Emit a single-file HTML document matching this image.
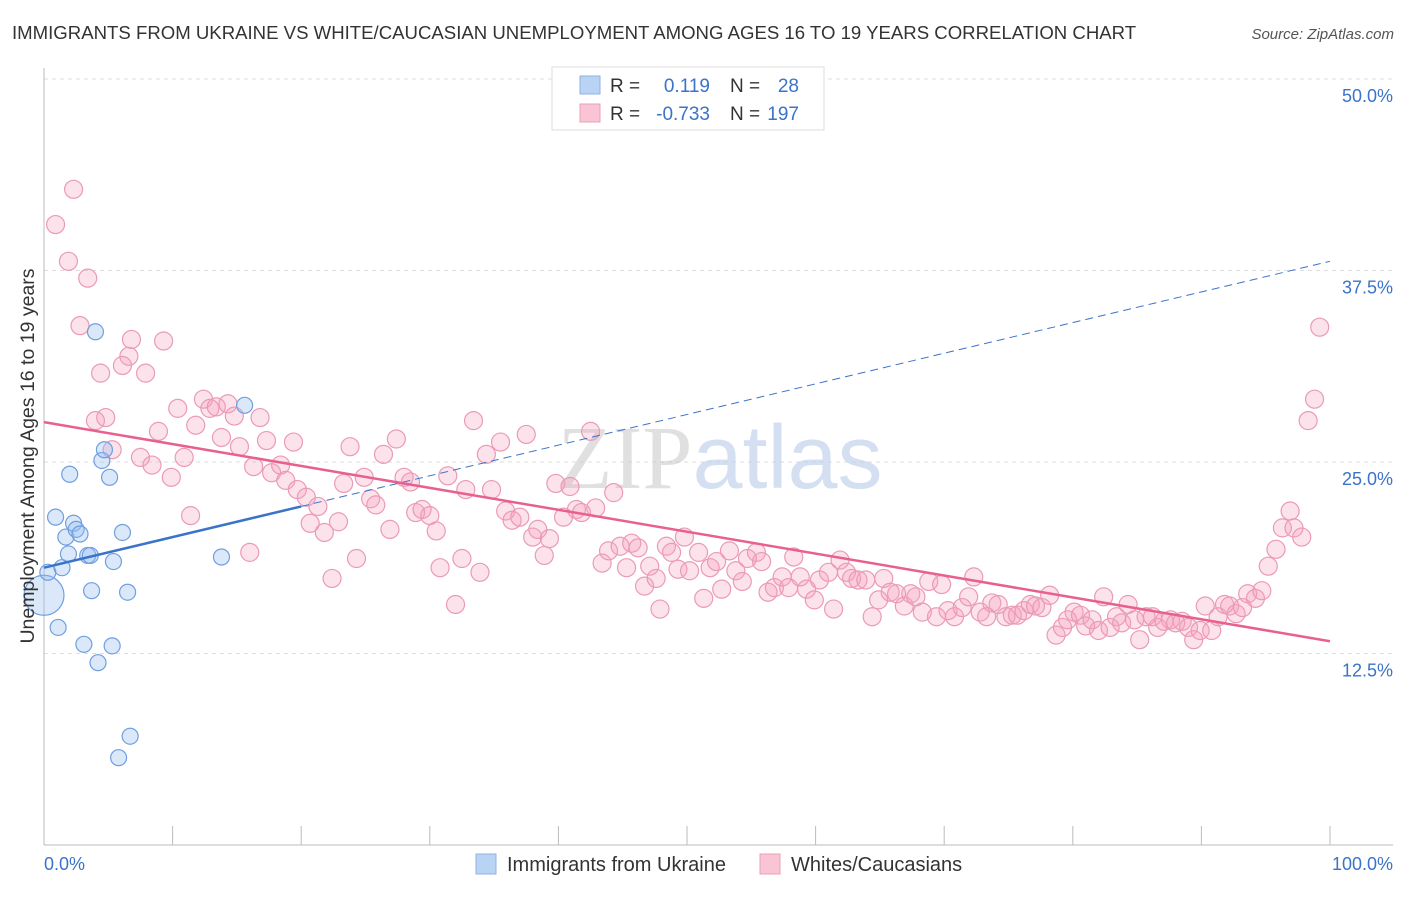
<!DOCTYPE html>
<html><head><meta charset="utf-8"><style>
body{margin:0;background:#fff;font-family:"Liberation Sans",sans-serif;}
svg text{font-family:"Liberation Sans",sans-serif;}
</style></head><body>
<svg id="chart" width="1406" height="892" viewBox="0 0 1406 892" xmlns="http://www.w3.org/2000/svg">
<text x="12" y="39" font-size="18.6" fill="#333">IMMIGRANTS FROM UKRAINE VS WHITE/CAUCASIAN UNEMPLOYMENT AMONG AGES 16 TO 19 YEARS CORRELATION CHART</text>
<text x="1394" y="39" font-size="15" fill="#555" font-style="italic" text-anchor="end">Source: ZipAtlas.com</text>
<g id="grid"></g>
<g id="axes"></g>
<text x="720" y="488" font-size="90" text-anchor="middle" fill="#ddd" opacity="0.6"><tspan font-family="Liberation Serif" fill="#ccc">ZIP</tspan><tspan fill="#b8cde8">atlas</tspan></text>
<g id="pink"></g>
<g id="blue"></g>
<g id="trends"></g>
<text transform="translate(34,456) rotate(-90)" font-size="19.5" fill="#333" text-anchor="middle">Unemployment Among Ages 16 to 19 years</text>
<g>
<rect x="552" y="67" width="272" height="63" fill="#fff" stroke="#ddd"/>
<rect x="580" y="76" width="20" height="18" fill="#b9d3f5" stroke="#8fb2e0"/>
<rect x="580" y="104" width="20" height="18" fill="#f9c4d4" stroke="#eba0b8"/>
<text x="610" y="92" font-size="19" fill="#333">R = </text><text x="710" y="92" font-size="19" fill="#3b73c9" text-anchor="end">0.119</text>
<text x="730" y="92" font-size="19" fill="#333">N = </text><text x="799" y="92" font-size="19" fill="#3b73c9" text-anchor="end">28</text>
<text x="610" y="120" font-size="19" fill="#333">R = </text><text x="710" y="120" font-size="19" fill="#3b73c9" text-anchor="end">-0.733</text>
<text x="730" y="120" font-size="19" fill="#333">N = </text><text x="799" y="120" font-size="19" fill="#3b73c9" text-anchor="end">197</text>
</g>
<g>
<rect x="476" y="854" width="20" height="20" fill="#b9d3f5" stroke="#8fb2e0"/>
<text x="507" y="871" font-size="20" fill="#333">Immigrants from Ukraine</text>
<rect x="760" y="854" width="20" height="20" fill="#f9c4d4" stroke="#eba0b8"/>
<text x="791" y="871" font-size="20" fill="#333">Whites/Caucasians</text>
</g>
</svg>
<script>
const yTicks=[12.5,25.0,37.5,50.0];
const yTickLabels=["12.5%","25.0%","37.5%","50.0%"];
const xTickLabels=["0.0%","100.0%"];
const blueX=[0,0.3,0.9,1.1,1.4,1.7,1.9,2.0,2.3,2.5,2.8,3.1,3.4,3.6,3.7,4.0,4.2,4.5,4.7,5.1,5.3,5.4,5.8,6.1,6.5,6.7,13.8,15.6];
const blueY=[16.3,17.8,21.4,14.2,18.1,20.1,19.0,24.2,21.0,20.6,20.3,13.1,18.9,18.9,16.6,33.5,11.9,25.1,25.8,24.0,13.0,18.5,5.7,20.4,16.5,7.1,18.8,28.7];
const pinkX=[0.9,2.3,1.9,3.4,2.8,6.8,9.3,6.6,6.1,4.4,7.9,4.0,4.8,5.3,7.5,8.4,8.9,9.9,10.4,10.9,11.4,11.8,12.4,12.9,13.4,13.8,14.3,14.8,15.2,16.0,16.3,16.8,17.3,17.7,18.4,18.8,19.4,19.7,20.4,20.7,21.3,21.8,22.4,22.9,23.3,23.8,24.3,24.9,25.4,25.8,26.4,26.9,27.4,28.0,28.5,28.9,29.4,30.0,30.5,30.8,31.4,32.0,32.5,32.8,33.4,33.9,34.4,34.8,35.5,35.9,36.4,37.0,37.5,38.0,38.4,38.9,39.3,39.8,40.4,40.9,41.4,41.8,42.5,42.9,43.4,43.9,44.3,44.8,45.3,45.7,46.2,46.7,47.1,47.6,47.9,48.4,48.8,49.3,49.8,50.2,50.9,51.3,51.8,52.3,52.7,53.3,53.8,54.3,54.7,55.4,55.8,56.3,56.8,57.4,57.9,58.3,58.8,59.3,59.9,60.3,61.0,61.4,61.9,62.4,62.8,63.3,63.9,64.4,64.9,65.3,65.8,66.3,66.9,67.4,67.8,68.3,68.8,69.4,69.8,70.3,70.8,71.4,71.9,72.3,72.8,73.3,73.7,74.2,74.8,75.3,75.7,76.2,76.7,77.1,77.6,78.2,78.7,79.2,79.6,80.1,80.6,81.0,81.5,82.0,82.4,82.9,83.4,83.8,84.3,84.8,85.2,85.7,86.2,86.6,87.1,87.6,88.0,88.5,89.0,89.4,89.9,90.3,90.8,91.3,91.8,92.2,92.7,93.2,93.6,94.2,94.7,95.2,95.8,96.3,96.9,97.2,97.8,98.3,98.8,99.2];
const pinkY=[40.5,42.8,38.1,37.0,33.9,33.0,32.9,31.9,31.3,30.8,30.8,27.7,27.9,25.8,25.3,24.8,27.0,24.0,28.5,25.3,21.5,27.4,29.1,28.5,28.6,26.6,28.8,28.0,26.0,19.1,24.7,27.9,26.4,24.3,24.8,23.8,26.3,23.2,22.7,21.0,22.1,20.4,17.4,21.1,23.6,26.0,18.7,24.0,22.6,22.2,25.5,20.6,26.5,24.0,23.7,21.7,21.9,21.5,20.5,18.1,24.1,15.7,18.7,23.2,27.7,17.8,25.5,23.2,26.3,21.8,21.2,21.4,26.8,20.1,20.6,18.9,20.0,23.6,21.4,23.4,21.9,21.7,27.0,22.0,18.4,19.2,23.0,19.5,18.1,19.7,19.4,16.9,18.2,17.4,15.4,19.5,19.1,18.0,20.1,17.9,19.1,16.1,18.1,18.5,16.7,19.2,17.9,17.2,18.7,19.1,18.5,16.5,16.8,17.5,16.8,18.8,17.5,16.7,16.0,17.3,17.8,15.4,18.6,17.8,17.4,17.3,17.3,14.9,16.0,17.4,16.5,16.4,15.6,16.4,16.2,15.2,17.2,14.9,17.0,15.3,14.9,15.5,16.2,17.5,15.2,14.9,15.8,15.7,14.9,15.0,15.0,15.3,15.7,15.6,15.5,16.3,13.7,14.2,14.7,15.2,15.0,14.3,14.7,14.0,16.2,14.2,14.9,14.5,15.7,14.7,13.4,14.9,14.9,14.2,14.6,14.7,14.5,14.6,14.2,13.4,14.0,15.6,14.0,14.9,15.7,15.6,15.1,15.5,16.4,16.1,16.6,18.2,19.3,20.7,21.8,20.7,20.1,27.7,29.1,33.8];
const blueTrend=[18.1,38.1];
const pinkTrend=[27.6,13.3];
const X0=44,X1=1330,Y0=845,YS=15.32;
const sx=v=>X0+(X1-X0)*v/100;
const sy=v=>Y0-v*YS;
const NS="http://www.w3.org/2000/svg";
function mk(tag,parent,attrs){const e=document.createElementNS(NS,tag);for(const k in attrs)e.setAttribute(k,attrs[k]);document.getElementById(parent).appendChild(e);return e;}
yTicks.forEach((t,i)=>{
  const l=mk('line','grid',{x1:X0,x2:1393,y1:sy(t),y2:sy(t),stroke:'#ddd','stroke-dasharray':'4,4'});
  
  
  const tx=mk('text','axes',{x:1393,y:sy(t)+23,'font-size':18,fill:'#3b73c9','text-anchor':'end'});
  tx.textContent=yTickLabels[i];
  
  
});
const tl=mk('line','grid',{x1:X0,x2:1393,y1:sy(50),y2:sy(50),stroke:'#ddd','stroke-dasharray':'4,4'});


mk('line','axes',{x1:X0,x2:X0,y1:68,y2:Y0,stroke:'#bbb'});
mk('line','axes',{x1:X0,x2:1393,y1:Y0,y2:Y0,stroke:'#bbb'});
for(let i=1;i<=10;i++){const t=mk('line','axes',{x1:sx(i*10),x2:sx(i*10),y1:826,y2:Y0,stroke:'#bbb'});

}
const xl0=mk('text','axes',{x:44,y:870,'font-size':18,fill:'#3b73c9'});xl0.textContent=xTickLabels[0];


const xl1=mk('text','axes',{x:1393,y:870,'font-size':18,fill:'#3b73c9','text-anchor':'end'});xl1.textContent=xTickLabels[1];


pinkX.forEach((x,i)=>{const c=mk('circle','pink',{cx:sx(x),cy:sy(pinkY[i]),r:9,fill:'rgba(244,160,188,0.3)',stroke:'#eb9ab5','stroke-width':1.2});

});
blueX.forEach((x,i)=>{const c=mk('circle','blue',{cx:sx(x),cy:sy(blueY[i]),r:i==0?20:8,fill:'rgba(150,190,240,0.35)',stroke:'#6f9fe0','stroke-width':1.2});

});
const byAt=x=>blueTrend[0]+(blueTrend[1]-blueTrend[0])*x/100;
const b1=mk('line','trends',{x1:sx(0),y1:sy(byAt(0)),x2:sx(20),y2:sy(byAt(20)),stroke:'#3b73c9','stroke-width':2.5});


const b2=mk('line','trends',{x1:sx(20),y1:sy(byAt(20)),x2:sx(100),y2:sy(byAt(100)),stroke:'#3b73c9','stroke-width':1,'stroke-dasharray':'8,5'});


const p1=mk('line','trends',{x1:sx(0),y1:sy(pinkTrend[0]),x2:sx(100),y2:sy(pinkTrend[1]),stroke:'#e8608f','stroke-width':2.5});


</script>
</body></html>
